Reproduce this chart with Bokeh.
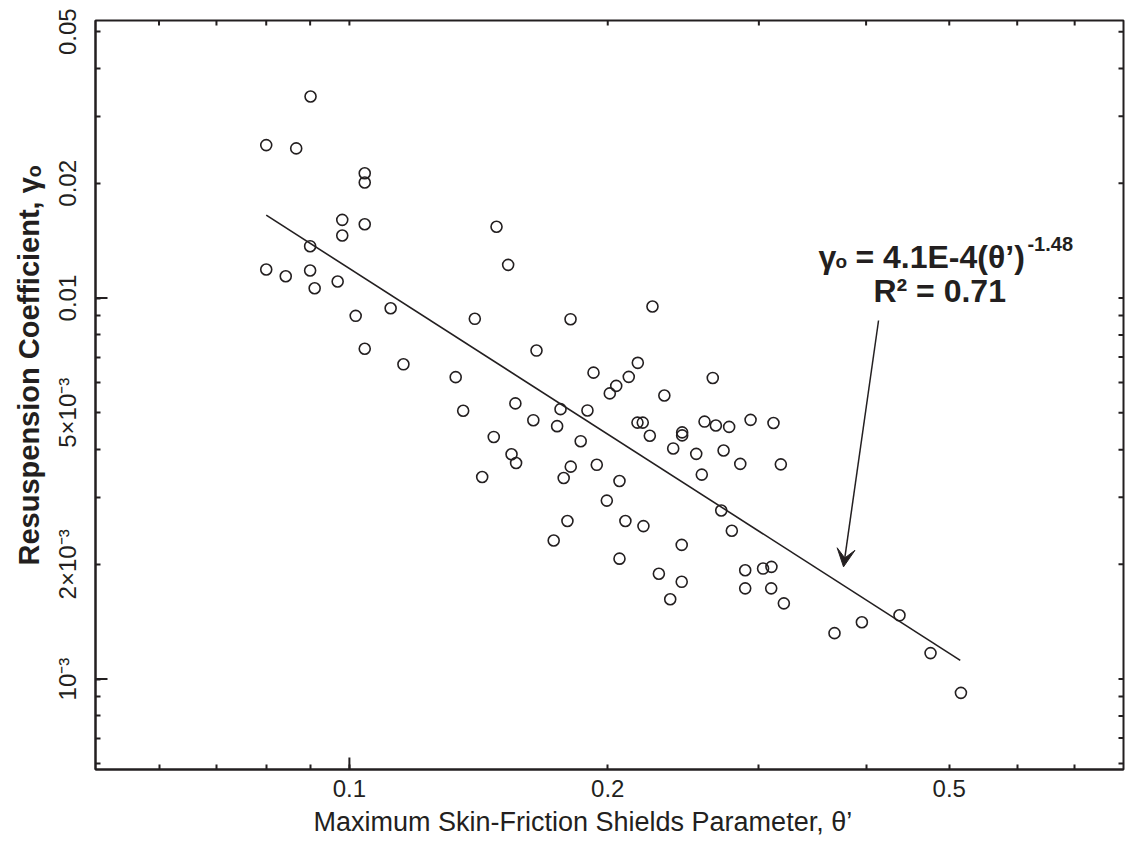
import math
from bokeh.plotting import figure
from bokeh.models import FixedTicker, Label, Arrow, VeeHead, Range1d, ColumnDataSource, Title
from bokeh.embed import file_html
from bokeh.resources import INLINE

# ---------------- data ----------------
theta = [
    0.0901, 0.0800, 0.0867, 0.1042, 0.1042, 0.0981, 0.0981, 0.1042, 0.0900, 0.0800,
    0.0843, 0.0900, 0.0911, 0.0969, 0.1017, 0.1117, 0.1042, 0.1156, 0.1484, 0.1531,
    0.1400, 0.1810, 0.1652, 0.1330, 0.2255, 0.1925, 0.2168, 0.2116, 0.2046, 0.2011,
    0.2651, 0.2328, 0.1357, 0.1561, 0.1762, 0.1894, 0.1638, 0.1746, 0.2166, 0.2197,
    0.2239, 0.2442, 0.2442, 0.2593, 0.2673, 0.2770, 0.2934, 0.3120, 0.1473, 0.1860,
    0.2384, 0.2536, 0.2729, 0.2854, 0.3182, 0.2574, 0.1545, 0.1564, 0.1428, 0.1811,
    0.1777, 0.1942, 0.2064, 0.1995, 0.2712, 0.2790, 0.1795, 0.2097, 0.2201, 0.1730,
    0.2439, 0.2064, 0.2294, 0.2439, 0.2365, 0.2892, 0.3034, 0.3103, 0.2892, 0.3101,
    0.3208, 0.3675, 0.3955, 0.4375, 0.4755, 0.5159]

gamma = [
    0.0338, 0.0252, 0.0247, 0.02126, 0.0201, 0.01604, 0.01459, 0.01562, 0.01368, 0.01188,
    0.01141, 0.01181, 0.01061, 0.01105, 0.00898, 0.00940, 0.00736, 0.00670, 0.01538, 0.01222,
    0.00882, 0.00880, 0.00728, 0.00620, 0.00950, 0.00637, 0.00676, 0.00621, 0.00588, 0.00562,
    0.00617, 0.00555, 0.00506, 0.00529, 0.00511, 0.00507, 0.00478, 0.00461, 0.00471, 0.00471,
    0.00435, 0.00444, 0.00436, 0.00474, 0.00463, 0.00459, 0.00479, 0.00470, 0.00432, 0.00421,
    0.00403, 0.00390, 0.00398, 0.00367, 0.00366, 0.00344, 0.00389, 0.00369, 0.00339, 0.00361,
    0.00337, 0.00365, 0.00331, 0.00294, 0.00277, 0.00245, 0.00260, 0.00260, 0.00252, 0.00231,
    0.00225, 0.00207, 0.00189, 0.00180, 0.00162, 0.00193, 0.00195, 0.00197, 0.00173, 0.00173,
    0.00158, 0.00132, 0.00141, 0.00147, 0.00117, 0.000920]

# fitted power law line (end points)
fit_theta = [0.0800, 0.515]
fit_gamma = [0.0165, 0.00112]

x_major = [0.1, 0.2, 0.5]
x_major_labels = ["0.1", "0.2", "0.5"]
x_minor = [0.06, 0.07, 0.08, 0.09, 0.3, 0.4, 0.6, 0.7, 0.8]
x_decades = [0.1]

y_major = [0.001, 0.002, 0.005, 0.01, 0.02, 0.05]
y_major_labels = ["10\u207b\u00b3", "2\u00d710\u207b\u00b3", "5\u00d710\u207b\u00b3", "0.01", "0.02", "0.05"]
y_minor = [0.0006, 0.0007, 0.0008, 0.0009, 0.003, 0.004, 0.006, 0.007, 0.008, 0.009, 0.03, 0.04]
y_decades = [0.001, 0.01]

x_lim = (0.0506, 0.798)
y_lim = (0.000579, 0.0535)

x_title = "Maximum Skin-Friction Shields Parameter, \u03b8\u2019"
y_title = "Resuspension Coefficient, \u03b3\u2092"

# annotation placement (data units)
ann_x, ann_y = 0.352, 0.01285
arrow_start = (0.4136, 0.00873)
arrow_end = (0.3765, 0.00197)

INK = "#231f20"
FONT = "Liberation Sans"

W, H = 1128, 849
BL, BR, BT, BB = 95, 5, 20, 80

p = figure(width=W, height=H, x_axis_type="log", y_axis_type="log",
           x_range=Range1d(*x_lim), y_range=Range1d(*y_lim),
           output_backend="svg", toolbar_location=None,
           min_border_left=BL, min_border_right=BR, min_border_top=BT, min_border_bottom=BB)
p.xgrid.visible = False
p.ygrid.visible = False
p.outline_line_color = INK
p.outline_line_width = 2
p.background_fill_color = "white"
p.border_fill_color = "white"

for ax in (p.xaxis[0], p.yaxis[0]):
    ax.major_tick_in = 5
    ax.major_tick_out = 0
    ax.minor_tick_in = 5
    ax.minor_tick_out = 0
    ax.major_tick_line_width = 2
    ax.minor_tick_line_width = 2
    ax.axis_line_width = 2
    ax.axis_line_color = INK
    ax.major_tick_line_color = INK
    ax.minor_tick_line_color = INK
    ax.major_label_text_font = FONT
    ax.major_label_text_color = INK
    ax.major_label_text_font_size = "24px"

xax = p.xaxis[0]
yax = p.yaxis[0]
xax.ticker = FixedTicker(ticks=x_major, minor_ticks=x_minor)
yax.ticker = FixedTicker(ticks=y_major, minor_ticks=y_minor)
xax.major_label_overrides = {v: s for v, s in zip(x_major, x_major_labels)}
yax.major_label_overrides = {v: s for v, s in zip(y_major, y_major_labels)}
xax.major_label_standoff = 10
yax.major_label_standoff = 14
yax.major_label_orientation = "vertical"

# axis titles as side titles so they can sit where the original has them
p.add_layout(Title(text=x_title, align="left", offset=218, standoff=11,
                   text_font=FONT, text_font_style="normal", text_font_size="27px",
                   text_line_height=1.35, text_color=INK), "below")
p.add_layout(Title(text=y_title, align="left", offset=204, standoff=13,
                   text_font=FONT, text_font_style="bold", text_font_size="29px",
                   text_color=INK), "left")

# mirrored ticks on top/right and longer decade ticks (drawn from the tick lists)
frame_w = W - BL - BR
frame_h = H - BT - BB
ppd_x = frame_w / math.log10(x_lim[1] / x_lim[0])
ppd_y = frame_h / math.log10(y_lim[1] / y_lim[0])
kx = lambda px: 10 ** (px / ppd_x)
ky = lambda px: 10 ** (px / ppd_y)

top_ticks = x_major + x_minor
p.segment(x0=top_ticks, x1=top_ticks,
          y0=[y_lim[1]] * len(top_ticks), y1=[y_lim[1] / ky(5)] * len(top_ticks),
          line_color=INK, line_width=2)
right_ticks = y_major + y_minor
p.segment(x0=[x_lim[1]] * len(right_ticks), x1=[x_lim[1] / kx(5)] * len(right_ticks),
          y0=right_ticks, y1=right_ticks, line_color=INK, line_width=2)
p.segment(x0=[x_lim[0]] * len(y_decades), x1=[x_lim[0] * kx(12)] * len(y_decades),
          y0=y_decades, y1=y_decades, line_color=INK, line_width=2)
p.segment(x0=x_decades, x1=x_decades,
          y0=[y_lim[0]] * len(x_decades), y1=[y_lim[0] * ky(12)] * len(x_decades),
          line_color=INK, line_width=2)

# data
src = ColumnDataSource(dict(theta=theta, gamma=gamma))
p.scatter("theta", "gamma", source=src, marker="circle", size=11,
          fill_color=None, line_color=INK, line_width=1.6)
p.line(fit_theta, fit_gamma, line_color=INK, line_width=1.6)


# equation annotation
def lab(text, dx, dy, size):
    p.add_layout(Label(x=ann_x, y=ann_y, x_offset=dx, y_offset=dy, text=text,
                       text_font=FONT, text_font_style="bold", text_font_size=size,
                       text_color=INK, text_align="left", text_baseline="alphabetic"))


lab("\u03b3", 0, 0, "32px")
lab("o", 17, -5, "19px")
lab("= 4.1E-4(\u03b8\u2019)", 37, 0, "32px")
lab("-1.48", 209, 13, "20px")
lab("R\u00b2 = 0.71", 55, -34, "32px")

p.add_layout(Arrow(end=VeeHead(size=18, fill_color=INK, line_color=INK),
                   x_start=arrow_start[0], y_start=arrow_start[1],
                   x_end=arrow_end[0], y_end=arrow_end[1],
                   line_color=INK, line_width=1.5))

open("out.html", "w").write(file_html(p, INLINE))
